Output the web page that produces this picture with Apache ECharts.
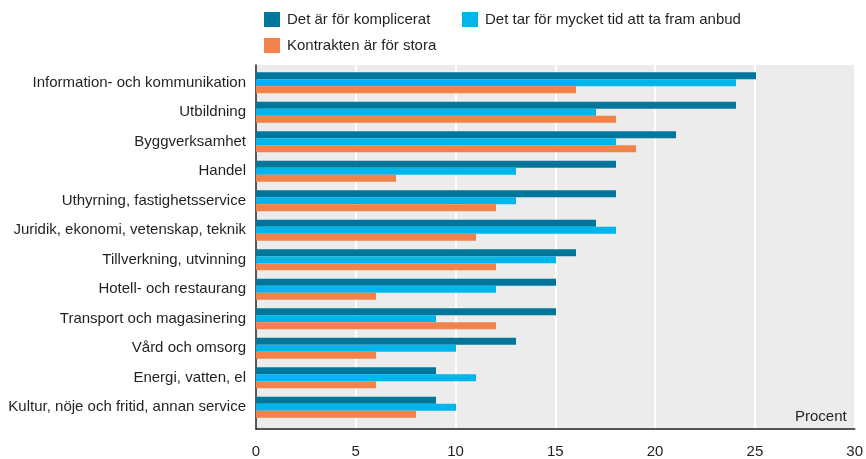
<!DOCTYPE html>
<html>
<head>
<meta charset="utf-8">
<script src="https://cdn.jsdelivr.net/npm/echarts@6/dist/echarts.min.js"></script>
<style>
html,body{margin:0;padding:0;background:#fff;}
#chart{width:866px;height:459px;}
</style>
</head>
<body>
<div id="chart"></div>
<script>
var categories=['Information- och kommunikation','Utbildning','Byggverksamhet','Handel',
	'Uthyrning, fastighetsservice','Juridik, ekonomi, vetenskap, teknik','Tillverkning, utvinning',
	'Hotell- och restaurang','Transport och magasinering','Vård och omsorg','Energi, vatten, el',
	'Kultur, nöje och fritid, annan service'];
var komplicerat=[25,24,21,18,18,17,16,15,15,13,9,9];
var tidAnbud=[24,17,18,13,13,18,15,12,9,10,11,10];
var storaKontrakt=[16,18,19,7,12,11,12,6,12,6,6,8];
var xTicks=[0,5,10,15,20,25,30];
var seriesNames=['Det är för komplicerat','Det tar för mycket tid att ta fram anbud','Kontrakten är för stora'];

var font='Liberation Sans';
var textCol='#231f20';
var colors=['#00769a','#00b5ec','#f0824a'];

function legendAt(name,left,top){
	return {
		data:[name],left:left,top:top,
		icon:'rect',itemWidth:16,itemHeight:15,itemGap:0,padding:0,
		textStyle:{fontFamily:font,fontSize:15,color:textCol,padding:[0,0,0,2]}
	};
}

var chart=echarts.init(document.getElementById('chart'));
var option={
	animation:false,
	color:colors,
	legend:[
		legendAt(seriesNames[0],264,12),
		legendAt(seriesNames[1],462,12),
		legendAt(seriesNames[2],264,38)
	],
	grid:[
		{left:256,right:10,top:68,height:354},
		{left:256,right:10,top:65,bottom:30,show:true,backgroundColor:'#ececec',borderWidth:0}
	],
	xAxis:[
		{gridIndex:0,type:'value',min:0,max:30,interval:5,show:false},
		{gridIndex:1,type:'value',min:xTicks[0],max:xTicks[xTicks.length-1],interval:5,
			axisLine:{show:true,lineStyle:{color:textCol,width:1.5}},
			axisTick:{show:false},
			axisLabel:{fontFamily:font,fontSize:15,color:textCol,margin:15},
			splitLine:{show:true,lineStyle:{color:'#ffffff',width:2}},
			name:'Procent',nameLocation:'end',nameGap:-8,
			nameTextStyle:{fontFamily:font,fontSize:15,color:textCol,align:'right',verticalAlign:'bottom',padding:[0,0,5,0]}
		}
	],
	yAxis:[
		{gridIndex:0,type:'category',data:categories,inverse:true,
			axisLine:{show:false},
			axisTick:{show:false},
			axisLabel:{fontFamily:font,fontSize:15,color:textCol,margin:10,padding:[3,0,0,0]},
			splitLine:{show:false}
		},
		{gridIndex:1,type:'value',min:0,max:1,
			axisLine:{show:true,lineStyle:{color:textCol,width:1.5}},
			axisTick:{show:false},axisLabel:{show:false},splitLine:{show:false}
		}
	],
	series:[
		{name:seriesNames[0],type:'bar',data:komplicerat,barWidth:7,barGap:'0%',xAxisIndex:0,yAxisIndex:0},
		{name:seriesNames[1],type:'bar',data:tidAnbud,barWidth:7,barGap:'0%',xAxisIndex:0,yAxisIndex:0},
		{name:seriesNames[2],type:'bar',data:storaKontrakt,barWidth:7,barGap:'0%',xAxisIndex:0,yAxisIndex:0}
	]
};
chart.setOption(option);
</script>
</body>
</html>
